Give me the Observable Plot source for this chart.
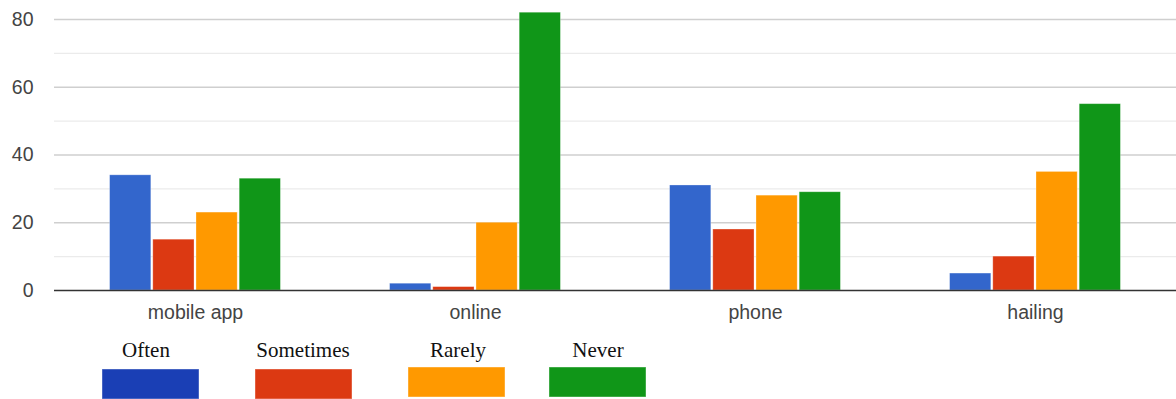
<!DOCTYPE html>
<html>
<head>
<meta charset="utf-8">
<script src="https://cdn.jsdelivr.net/npm/d3@7"></script>
<script src="https://cdn.jsdelivr.net/npm/@observablehq/plot@0.6"></script>
<style>
  html, body { margin: 0; padding: 0; background: #fff; }
  #wrap { position: relative; width: 1176px; height: 399px; overflow: hidden; }
  #legend { position: absolute; left: 0; top: 0; }
</style>
</head>
<body>
<div id="wrap"><div id="chart"></div><svg id="legend" width="1176" height="399"></svg></div>
<script>
const categories = ["mobile app", "online", "phone", "hailing"];
const series = ["Often", "Sometimes", "Rarely", "Never"];
const often = [34, 2, 31, 5];
const sometimes = [15, 1, 18, 10];
const rarely = [23, 20, 28, 35];
const never = [33, 82, 29, 55];
const yTicks = [0, 20, 40, 60, 80];
const minorTicks = [10, 30, 50, 70];
const barColors = ["#3366cc", "#dc3912", "#ff9900", "#109618"];
const legendColors = ["#1a3fb5", "#dc3912", "#ff9900", "#109618"];

const valuesBySeries = [often, sometimes, rarely, never];

const W = 1176, ML = 54, MR = 0, PIN = 0.384, POUT = 0.192;
const step = (W - ML - MR) / (categories.length - PIN + 2 * POUT);
const bandwidth = step * (1 - PIN);
const sub = bandwidth / series.length;
const gap = 0.6;

const barMarks = series.map((s, j) => Plot.barY(
  categories.map((c, i) => ({category: c, series: s, value: valuesBySeries[j][i]})),
  {x: "category", y: "value", fill: barColors[j],
   insetLeft: j * sub + gap, insetRight: (series.length - 1 - j) * sub + gap,
   stroke: "#ffffff", strokeOpacity: 0.35, strokeWidth: 0.8}
));

const chart = Plot.plot({
  width: W,
  height: 335,
  marginLeft: ML,
  marginRight: MR,
  marginTop: 19,
  marginBottom: 45,
  style: {fontFamily: "'Liberation Sans', Arial, sans-serif", fontSize: "19.5px", color: "#444", background: "transparent", overflow: "visible"},
  x: {domain: categories, paddingInner: PIN, paddingOuter: POUT, label: null, tickSize: 0, tickPadding: 15},
  y: {domain: [0, 80], ticks: yTicks, label: null, tickSize: 0, tickPadding: 21},
  marks: [
    Plot.ruleY(minorTicks, {stroke: "#ebebeb", strokeWidth: 1.3}),
    Plot.ruleY(yTicks.filter(d => d > 0), {stroke: "#cfcfcf", strokeWidth: 1.3}),
    ...barMarks,
    Plot.ruleY([0], {stroke: "#333", strokeWidth: 1.6})
  ]
});
document.getElementById("chart").appendChild(chart);

// Legend (drawn below the plot)
const legendX = [102, 255, 408, 549];
const legendSwatchY = [369, 369, 367, 367];
const labelCenters = [146, 303, 458, 598];
const lg = d3.select("#legend");
series.forEach((s, i) => {
  lg.append("rect").attr("x", legendX[i]).attr("y", legendSwatchY[i]).attr("width", 97).attr("height", 30)
    .attr("fill", legendColors[i]).attr("stroke", "#ffffff").attr("stroke-opacity", 0.4);
  lg.append("text").attr("x", labelCenters[i]).attr("y", 357).attr("text-anchor", "middle")
    .attr("font-family", "'Liberation Serif', 'Times New Roman', serif").attr("font-size", 21)
    .attr("fill", "#111").text(s);
});
</script>
</body>
</html>
